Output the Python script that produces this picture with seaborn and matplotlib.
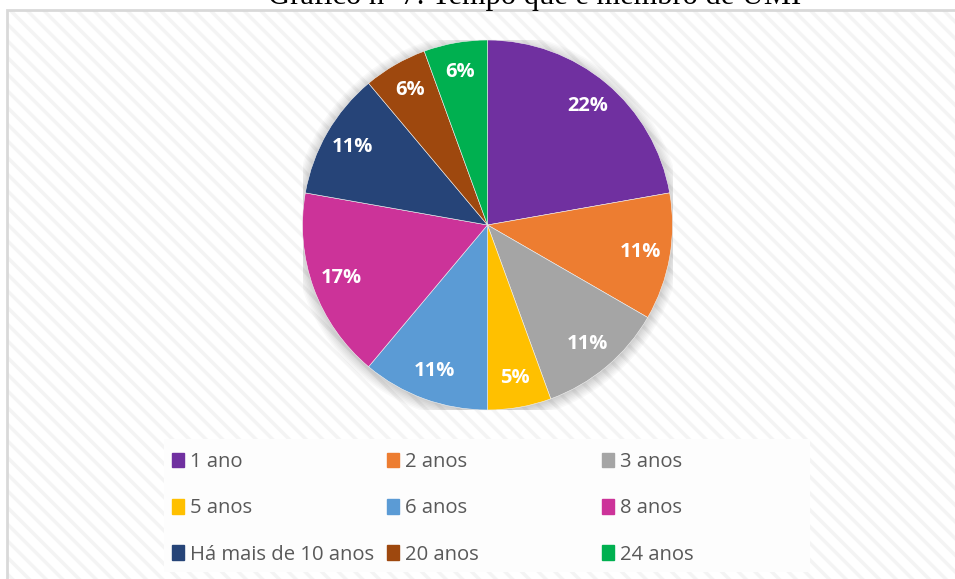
import numpy as np
import matplotlib
matplotlib.use("Agg")
import matplotlib.pyplot as plt
import matplotlib.patches as mpatches
import seaborn as sns

# chart data: members by time (counts) and shown labels
categories = ["1 ano", "2 anos", "3 anos", "5 anos", "6 anos", "8 anos",
              "Há mais de 10 anos", "20 anos", "24 anos"]
counts = [4, 2, 2, 1, 2, 3, 2, 1, 1]
pct_labels = ["22%", "11%", "11%", "5%", "11%", "17%", "11%", "6%", "6%"]
slice_colors = ["#7030A0", "#ED7D31", "#A5A5A5", "#FFC000", "#5B9BD5",
                "#CC3399", "#264478", "#9E480E", "#00B050"]
title = "Gráfico nº 7: Tempo que é membro de UMI"

sns.set_theme(style="white")
plt.rcParams["font.family"] = ["Open Sans", "DejaVu Sans"]
plt.rcParams["hatch.linewidth"] = 2.5

W, H = 955, 579
fig = plt.figure(figsize=(W / 100, H / 100), dpi=100)
fig.patch.set_facecolor("white")

# chart area: hatched background + grey frame
bg = mpatches.Rectangle((7 / W, -0.05), 1.1, (H - 10) / H + 0.05,
                        transform=fig.transFigure, facecolor="white",
                        edgecolor="#f4f4f4", hatch="\\\\", linewidth=0, zorder=-3)
fig.patches.append(bg)
frame = mpatches.Rectangle((7 / W, -0.05), 1.1, (H - 10) / H + 0.05,
                           transform=fig.transFigure, facecolor="none",
                           edgecolor="#d9d9d9", linewidth=2, zorder=-2)
fig.patches.append(frame)

# title, mostly cut off by the top edge (as in the source image)
fig.text(535 / W, (H - 4) / H, title, ha="center", va="baseline",
         fontsize=22, family=["Liberation Serif", "DejaVu Serif"], color="black")

# pie
cx, cy, r = 487.5, 225, 185
ax = fig.add_axes([(cx - r) / W, (H - cy - r) / H, 2 * r / W, 2 * r / H])
ax.set_facecolor("none")
ax.set_zorder(2)

# soft shadow around the pie
for k in range(8):
    ax.add_patch(mpatches.Circle((0.0, -0.01), 1.0 + 0.008 * k,
                                 facecolor="#000000", alpha=0.022,
                                 edgecolor="none", zorder=0))

palette = sns.color_palette(slice_colors)
wedges, texts = ax.pie(
    counts, colors=palette, startangle=90, counterclock=False,
    labels=pct_labels, labeldistance=0.84,
    wedgeprops=dict(linewidth=0.4, edgecolor="#f2f2f2"),
    textprops=dict(color="white", fontsize=14.5, fontweight="bold"))
for w in wedges:
    w.set_zorder(2)
for t in texts:
    t.set_ha("center")
    t.set_va("center")
    t.set_zorder(3)
ax.set_xlim(-1, 1)
ax.set_ylim(-1, 1)
ax.set_aspect("equal")
ax.axis("off")

# legend box
lg_box = mpatches.Rectangle((164 / W, (H - 572) / H), (810 - 164) / W, 133 / H,
                            transform=fig.transFigure, facecolor="#fdfdfd",
                            edgecolor="none", zorder=-1)
fig.patches.append(lg_box)

# legend laid out row-wise in three columns
col_x = [172, 387, 602]
for c in range(3):
    idx = [c, c + 3, c + 6]
    handles = [mpatches.Patch(color=slice_colors[i]) for i in idx]
    labels = [categories[i] for i in idx]
    fig.legend(handles, labels, loc="upper left",
               bbox_to_anchor=(col_x[c] / W, (H - 452) / H),
               frameon=False, borderpad=0, borderaxespad=0,
               handlelength=0.6, handleheight=0.72, handletextpad=0.3,
               labelspacing=1.3, fontsize=14.6, labelcolor="#595959")

fig.savefig("out.png", dpi=100)
